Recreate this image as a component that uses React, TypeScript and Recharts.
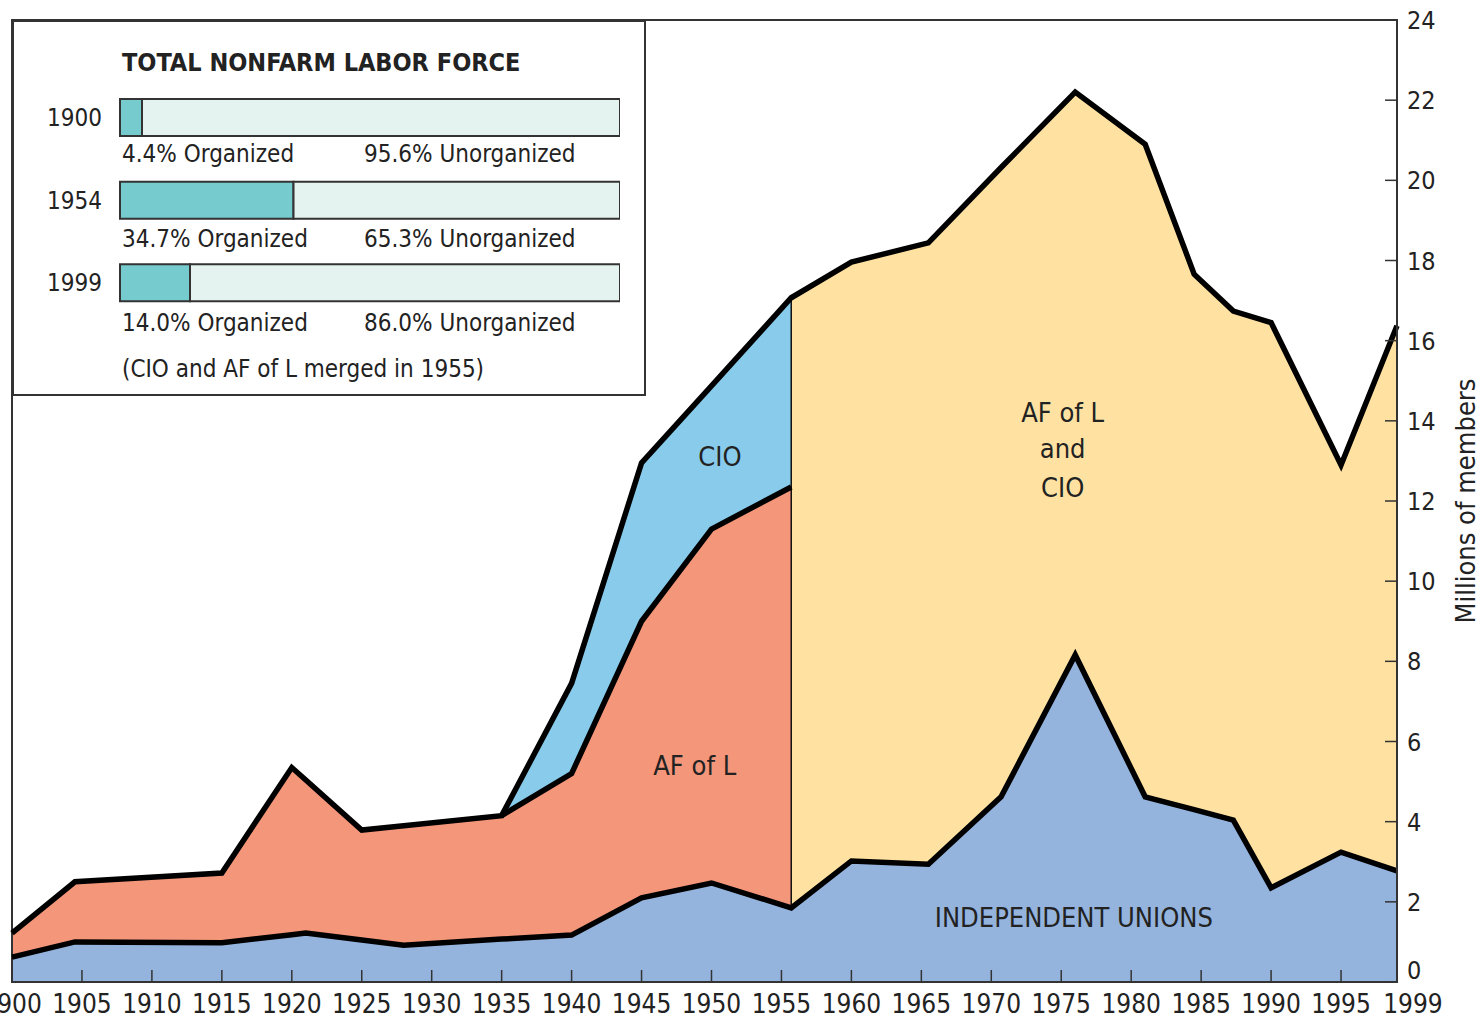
import {
  ComposedChart,
  Area,
  Line,
  XAxis,
  YAxis,
  ReferenceArea,
  ReferenceLine,
  ReferenceDot,
  Label,
  BarChart,
  Bar,
} from "recharts";

const FONT = "'DejaVu Sans Condensed', 'DejaVu Sans', sans-serif";
const INK = "#222";

// membership in millions (1955.7 appears twice: before/after merger)
const years = [1900, 1904.5, 1915, 1920, 1921, 1925, 1928, 1935, 1940, 1945, 1950, 1955.7, 1955.7, 1960, 1965.5, 1970.7, 1976, 1981, 1984.5, 1987.3, 1990, 1995, 1999];
const independent = [0.62, 1.0, 0.98, 1.18, 1.22, 1.05, 0.92, 1.07, 1.17, 2.1, 2.47, 1.85, 1.85, 3.02, 2.94, 4.62, 8.16, 4.62, 4.3, 4.04, 2.35, 3.24, 2.77];
const afOfL = [0.6, 1.5, 1.74, 4.17, 3.82, 2.74, 2.98, 3.08, 4.03, 6.9, 8.83, 10.5, 0, 0, 0, 0, 0, 0, 0, 0, 0, 0, 0];
const cio = [0, 0, 0, 0, 0, 0, 0, 0, 2.25, 3.95, 3.57, 4.72, 0, 0, 0, 0, 0, 0, 0, 0, 0, 0, 0];
const merged = [0, 0, 0, 0, 0, 0, 0, 0, 0, 0, 0, 0, 15.22, 14.94, 15.5, 15.7, 14.04, 16.28, 13.36, 12.7, 14.1, 9.66, 13.6];

const cioStartYear = 1935;
const mergeYear = 1955.7;

const xTicks = [1900, 1905, 1910, 1915, 1920, 1925, 1930, 1935, 1940, 1945, 1950, 1955, 1960, 1965, 1970, 1975, 1980, 1985, 1990, 1995, 1999];
const yTicks = [0, 2, 4, 6, 8, 10, 12, 14, 16, 18, 20, 22, 24];

// inset: share of total nonfarm labor force
const insetYears = ["1900", "1954", "1999"];
const organizedPct = [4.4, 34.7, 14.0];

const cioStart = years.indexOf(cioStartYear);
const mergeIdx = years.indexOf(mergeYear);

const rows = years.map((year, i) => ({
  year,
  indep: independent[i],
  afl: afOfL[i],
  cio: cio[i],
  merged: merged[i],
  total: independent[i] + afOfL[i] + cio[i] + merged[i],
  aflTop: i >= cioStart && i <= mergeIdx ? independent[i] + afOfL[i] : null,
}));

const insetRows = insetYears.map((year, i) => ({
  year,
  organized: organizedPct[i],
  unorganized: +(100 - organizedPct[i]).toFixed(1),
}));

const lastTick = xTicks[xTicks.length - 1];

const XTick = ({ x, y, payload }: any) => (
  <text
    x={payload.value === lastTick ? x + 16 : x}
    y={y + 31}
    textAnchor="middle"
    fontSize={26}
    fill={INK}
    fontFamily={FONT}
  >
    {payload.value}
  </text>
);

const YTick = ({ x, y, payload }: any) => (
  <text
    x={x + 10}
    y={payload.value === 0 ? y - 12 : y}
    dy="0.36em"
    textAnchor="start"
    fontSize={25}
    fill={INK}
    fontFamily={FONT}
  >
    {payload.value}
  </text>
);

const annoLabel = (value: string) => ({
  value,
  position: "center" as const,
  fontSize: 27,
  fill: INK,
  fontFamily: FONT,
});

const Note = ({ x, y, text }: { x: number; y: number; text: string }) => (
  <ReferenceDot
    x={x}
    y={y}
    r={1}
    fill="none"
    stroke="none"
    label={annoLabel(text)}
  />
);

const Inset = () => (
  <div
    style={{
      position: "absolute",
      left: 12,
      top: 20,
      width: 634,
      height: 376,
      boxSizing: "border-box",
      border: "2px solid #333",
      background: "#fff",
      fontFamily: FONT,
      color: INK,
    }}
  >
    <div
      style={{
        position: "absolute",
        left: 108,
        top: 27,
        fontSize: 25,
        lineHeight: "28px",
        fontWeight: "bold",
        whiteSpace: "nowrap",
      }}
    >
      TOTAL NONFARM LABOR FORCE
    </div>
    <div style={{ position: "absolute", left: 0, top: 54 }}>
      <BarChart
        width={606}
        height={248}
        data={insetRows}
        layout="vertical"
        margin={{ top: 0, right: 0, bottom: 0, left: 0 }}
      >
        <XAxis type="number" domain={[0, 100]} hide />
        <YAxis
          type="category"
          dataKey="year"
          width={106}
          axisLine={false}
          tickLine={false}
          tickMargin={12}
          tick={{ fontSize: 24, fill: INK, fontFamily: FONT }}
        />
        <Bar dataKey="organized" stackId="a" fill="#76CBCE" stroke="#333" strokeWidth={2} barSize={37} isAnimationActive={false} />
        <Bar dataKey="unorganized" stackId="a" fill="#E4F3EF" stroke="#333" strokeWidth={2} barSize={37} isAnimationActive={false} />
      </BarChart>
    </div>
    {insetRows.map((r, i) => (
      <div key={r.year}>
        <div
          style={{
            position: "absolute",
            left: 108,
            top: 118 + i * 84.5,
            fontSize: 24,
            lineHeight: "28px",
            whiteSpace: "nowrap",
          }}
        >
          {r.organized.toFixed(1)}% Organized
        </div>
        <div
          style={{
            position: "absolute",
            left: 350,
            top: 118 + i * 84.5,
            fontSize: 24,
            lineHeight: "28px",
            whiteSpace: "nowrap",
          }}
        >
          {r.unorganized.toFixed(1)}% Unorganized
        </div>
      </div>
    ))}
    <div
      style={{
        position: "absolute",
        left: 108,
        top: 333,
        fontSize: 24,
        lineHeight: "28px",
        whiteSpace: "nowrap",
      }}
    >
      (CIO and AF of L merged in {Math.floor(mergeYear)})
    </div>
  </div>
);

export default function App() {
  const m = rows[mergeIdx];
  return (
    <div style={{ position: "absolute", left: 0, top: 0, width: 1483, height: 1018, background: "#fff" }}>
      <ComposedChart
        width={1483}
        height={1018}
        data={rows}
        margin={{ top: 20, right: 0, bottom: 0, left: 12 }}
      >
        <XAxis
          dataKey="year"
          type="number"
          domain={[1900, 1999]}
          ticks={xTicks}
          interval={0}
          height={36}
          tickSize={-12}
          tickMargin={12}
          axisLine={{ stroke: "#333", strokeWidth: 2 }}
          tickLine={{ stroke: "#333", strokeWidth: 1.5 }}
          tick={<XTick />}
        />
        <YAxis
          orientation="right"
          type="number"
          domain={[0, 24]}
          ticks={yTicks}
          interval={0}
          width={86}
          tickSize={-12}
          tickMargin={12}
          axisLine={{ stroke: "#333", strokeWidth: 2 }}
          tickLine={{ stroke: "#333", strokeWidth: 1.5 }}
          tick={<YTick />}
        >
          <Label
            content={(props: any) => {
              const vb = props.viewBox || { x: 1397, y: 20, width: 86, height: 962 };
              const cx = vb.x + vb.width - 18;
              const cy = vb.y + vb.height / 2;
              return (
                <text
                  x={cx}
                  y={cy}
                  transform={`rotate(-90 ${cx} ${cy})`}
                  textAnchor="middle"
                  dominantBaseline="central"
                  fontSize={27}
                  fill={INK}
                  fontFamily={FONT}
                >
                  Millions of members
                </text>
              );
            }}
          />
        </YAxis>

        <Area type="linear" dataKey="indep" stackId="s" fill="#94B4DE" fillOpacity={1} stroke="none" isAnimationActive={false} />
        <Area type="linear" dataKey="afl" stackId="s" fill="#F4967A" fillOpacity={1} stroke="none" isAnimationActive={false} />
        <Area type="linear" dataKey="cio" stackId="s" fill="#88CBEB" fillOpacity={1} stroke="none" isAnimationActive={false} />
        <Area type="linear" dataKey="merged" stackId="s" fill="#FFE2A2" fillOpacity={1} stroke="none" isAnimationActive={false} />

        <ReferenceLine
          segment={[
            { x: mergeYear, y: m.indep },
            { x: mergeYear, y: m.total },
          ]}
          stroke="#111"
          strokeWidth={1.5}
        />

        <Line type="linear" dataKey="indep" stroke="#000" strokeWidth={5.5} strokeLinejoin="miter" dot={false} activeDot={false} isAnimationActive={false} />
        <Line type="linear" dataKey="aflTop" stroke="#000" strokeWidth={5.5} strokeLinejoin="miter" dot={false} activeDot={false} connectNulls={false} isAnimationActive={false} />
        <Line type="linear" dataKey="total" stroke="#000" strokeWidth={5.5} strokeLinejoin="miter" dot={false} activeDot={false} isAnimationActive={false} />

        <ReferenceArea x1={1900} x2={1999} y1={0} y2={24} fill="none" stroke="#333" strokeWidth={2} />

        <Note x={1950.6} y={13.1} text="CIO" />
        <Note x={1948.8} y={5.4} text="AF of L" />
        <Note x={1975.1} y={14.2} text="AF of L" />
        <Note x={1975.1} y={13.3} text="and" />
        <Note x={1975.1} y={12.35} text="CIO" />
        <Note x={1975.9} y={1.6} text="INDEPENDENT UNIONS" />
      </ComposedChart>
      <Inset />
    </div>
  );
}
